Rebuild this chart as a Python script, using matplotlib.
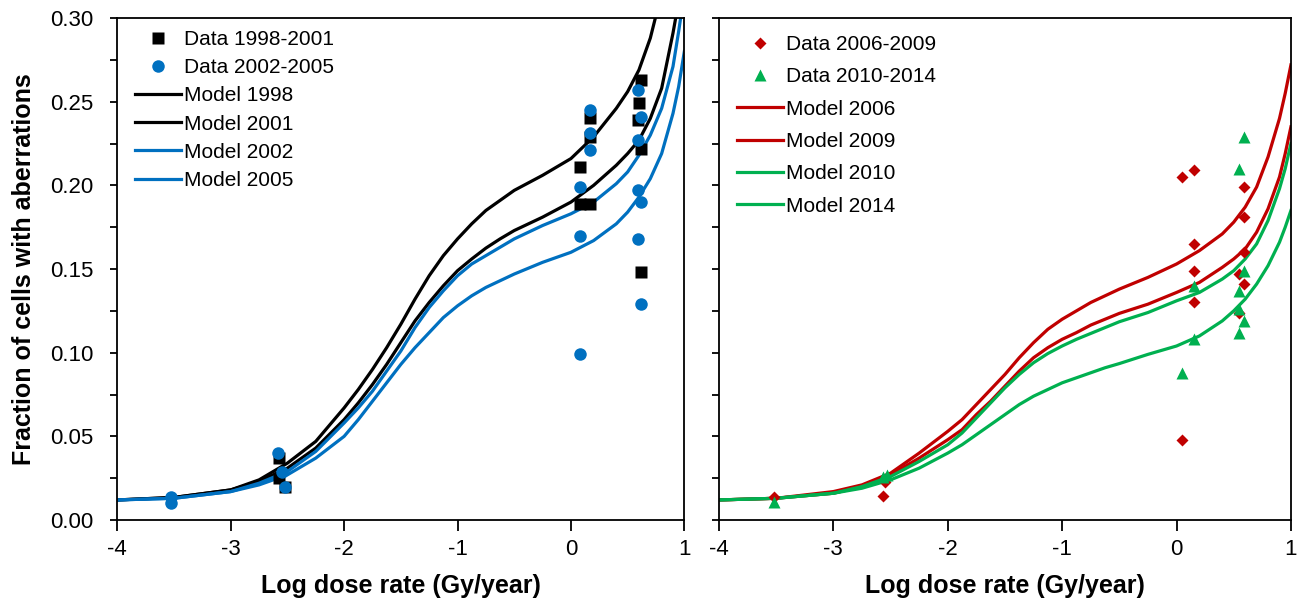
import matplotlib
matplotlib.use("Agg")
import matplotlib.pyplot as plt
from matplotlib.ticker import MultipleLocator

plt.rcParams['font.family'] = ['Liberation Sans', 'DejaVu Sans']

# ---------------- data ----------------
xgrid = [-4.0, -3.5, -3.0, -2.75, -2.5, -2.25, -2.0, -1.875, -1.75, -1.625, -1.5, -1.375,
         -1.25, -1.125, -1.0, -0.875, -0.75, -0.625, -0.5, -0.25, 0.0, 0.2, 0.4, 0.5,
         0.6, 0.7, 0.8, 0.9, 0.95, 1.0]

model_1998 = [0.012, 0.0135, 0.018, 0.024, 0.034, 0.047, 0.067, 0.078, 0.090, 0.103, 0.117, 0.132,
              0.146, 0.158, 0.168, 0.177, 0.185, 0.191, 0.197, 0.206, 0.216, 0.229, 0.246, 0.256,
              0.269, 0.288, 0.315, 0.350, 0.370, 0.390]
model_2001 = [0.012, 0.0135, 0.018, 0.023, 0.031, 0.043, 0.060, 0.070, 0.081, 0.093, 0.106, 0.119,
              0.130, 0.140, 0.149, 0.156, 0.1625, 0.168, 0.173, 0.181, 0.190, 0.200, 0.212, 0.219,
              0.227, 0.240, 0.258, 0.291, 0.310, 0.330]
model_2002 = [0.012, 0.013, 0.017, 0.022, 0.029, 0.041, 0.058, 0.067, 0.077, 0.089, 0.101, 0.115,
              0.127, 0.137, 0.146, 0.153, 0.158, 0.163, 0.168, 0.176, 0.183, 0.190, 0.201, 0.208,
              0.218, 0.230, 0.246, 0.271, 0.292, 0.315]
model_2005 = [0.012, 0.013, 0.017, 0.021, 0.027, 0.037, 0.050, 0.060, 0.071, 0.082, 0.093, 0.103,
              0.112, 0.121, 0.128, 0.134, 0.139, 0.143, 0.147, 0.154, 0.160, 0.167, 0.177, 0.184,
              0.193, 0.204, 0.219, 0.243, 0.259, 0.280]

model_2006 = [0.012, 0.013, 0.017, 0.021, 0.028, 0.040, 0.053, 0.060, 0.069, 0.078, 0.087, 0.097,
              0.106, 0.114, 0.120, 0.125, 0.130, 0.134, 0.138, 0.145, 0.153, 0.161, 0.171, 0.178,
              0.187, 0.199, 0.217, 0.240, 0.255, 0.272]
model_2009 = [0.012, 0.013, 0.016, 0.020, 0.027, 0.037, 0.048, 0.054, 0.063, 0.071, 0.080, 0.089,
              0.097, 0.103, 0.108, 0.112, 0.1165, 0.120, 0.1235, 0.129, 0.136, 0.142, 0.151, 0.156,
              0.162, 0.172, 0.186, 0.205, 0.219, 0.235]
model_2010 = [0.012, 0.013, 0.016, 0.020, 0.026, 0.035, 0.045, 0.052, 0.061, 0.070, 0.079, 0.087,
              0.094, 0.0995, 0.104, 0.108, 0.1115, 0.115, 0.1185, 0.124, 0.131, 0.136, 0.144, 0.149,
              0.156, 0.165, 0.179, 0.198, 0.210, 0.225]
model_2014 = [0.012, 0.013, 0.016, 0.019, 0.024, 0.031, 0.040, 0.045, 0.051, 0.057, 0.063, 0.069,
              0.074, 0.078, 0.082, 0.085, 0.088, 0.091, 0.0935, 0.099, 0.104, 0.110, 0.119, 0.125,
              0.132, 0.141, 0.152, 0.166, 0.175, 0.185]

d9801_x = [-2.57, -2.57, -2.52, 0.08, 0.08, 0.17, 0.17, 0.17, 0.62, 0.60, 0.59, 0.62, 0.62]
d9801_y = [0.037, 0.025, 0.020, 0.211, 0.189, 0.189, 0.240, 0.229, 0.263, 0.249, 0.239, 0.222, 0.148]

d0205_x = [-3.53, -3.53, -2.58, -2.55, -2.52, 0.08, 0.08, 0.08, 0.17, 0.17, 0.17,
           0.59, 0.62, 0.59, 0.59, 0.62, 0.59, 0.62]
d0205_y = [0.014, 0.010, 0.040, 0.029, 0.020, 0.199, 0.170, 0.099, 0.245, 0.231, 0.221,
           0.257, 0.241, 0.227, 0.197, 0.190, 0.168, 0.129]

d0609_x = [-3.52, -2.57, -2.55, 0.05, 0.05, 0.15, 0.15, 0.15, 0.15,
           0.59, 0.59, 0.59, 0.55, 0.59, 0.55]
d0609_y = [0.014, 0.0143, 0.023, 0.205, 0.048, 0.209, 0.165, 0.149, 0.130,
           0.199, 0.181, 0.160, 0.147, 0.141, 0.124]

d1014_x = [-3.52, -2.57, -2.53, 0.05, 0.15, 0.15, 0.59, 0.55, 0.59, 0.55, 0.55, 0.59, 0.55]
d1014_y = [0.011, 0.026, 0.027, 0.088, 0.140, 0.108, 0.229, 0.210, 0.149, 0.137, 0.126, 0.119, 0.112]

xticks = [-4, -3, -2, -1, 0, 1]
yticks = [0.00, 0.05, 0.10, 0.15, 0.20, 0.25, 0.30]

BLACK = '#000000'
BLUE = '#0070C0'
RED = '#C00000'
GREEN = '#00B050'

# ---------------- figure ----------------
fig = plt.figure(figsize=(13.02, 6.03), dpi=100)
ax1 = fig.add_axes([0.0901, 0.1376, 0.4355, 0.8325])
ax2 = fig.add_axes([0.5522, 0.1376, 0.4393, 0.8325])

LW = 2.3

ax1.plot(xgrid, model_1998, color=BLACK, lw=LW, label='Model 1998', zorder=2)
ax1.plot(xgrid, model_2001, color=BLACK, lw=LW, label='Model 2001', zorder=2)
ax1.plot(xgrid, model_2002, color=BLUE, lw=LW, label='Model 2002', zorder=2)
ax1.plot(xgrid, model_2005, color=BLUE, lw=LW, label='Model 2005', zorder=2)
ax1.plot(d9801_x, d9801_y, ls='none', marker='s', ms=8.5, color=BLACK,
         mec='none', label='Data 1998-2001', zorder=3)
ax1.plot(d0205_x, d0205_y, ls='none', marker='o', ms=9, color=BLUE,
         mec='none', label='Data 2002-2005', zorder=4)

ax2.plot(xgrid, model_2006, color=RED, lw=LW, label='Model 2006', zorder=2)
ax2.plot(xgrid, model_2009, color=RED, lw=LW, label='Model 2009', zorder=2)
ax2.plot(xgrid, model_2010, color=GREEN, lw=LW, label='Model 2010', zorder=2)
ax2.plot(xgrid, model_2014, color=GREEN, lw=LW, label='Model 2014', zorder=2)
ax2.plot(d0609_x, d0609_y, ls='none', marker='D', ms=6.5, color=RED,
         mec='none', label='Data 2006-2009', zorder=3)
ax2.plot(d1014_x, d1014_y, ls='none', marker='^', ms=9, color=GREEN,
         mec='none', label='Data 2010-2014', zorder=4)

for ax in (ax1, ax2):
    ax.set_xlim(-4, 1)
    ax.set_ylim(0, 0.30)
    ax.set_xticks(xticks)
    ax.set_yticks(yticks)
    ax.yaxis.set_minor_locator(MultipleLocator(0.025))
    ax.tick_params(axis='both', which='both', direction='out', width=1.3,
                   labelsize=16, colors='black')
    ax.tick_params(axis='y', which='both', length=5, pad=12)
    ax.tick_params(axis='x', which='major', length=8, pad=6)
    ax.set_xticklabels([str(t) for t in xticks])
    for s in ax.spines.values():
        s.set_linewidth(1.3)
        s.set_color('black')
    ax.set_xlabel('Log dose rate (Gy/year)', fontsize=18, fontweight='bold', labelpad=10)

ax1.set_yticklabels(['%.2f' % t for t in yticks])
ax2.set_yticklabels([])
ax1.set_ylabel('Fraction of cells with aberrations', fontsize=18, fontweight='bold', labelpad=10)

order = [4, 5, 0, 1, 2, 3]
hs, ls_ = ax1.get_legend_handles_labels()
ax1.legend([hs[i] for i in order], [ls_[i] for i in order], loc='upper left',
           bbox_to_anchor=(0.006, 1.005), frameon=False, fontsize=15,
           handlelength=2.2, handletextpad=0.15, labelspacing=0.44, borderaxespad=0.3)

hs, ls_ = ax2.get_legend_handles_labels()
ax2.legend([hs[i] for i in order], [ls_[i] for i in order], loc='upper left',
           bbox_to_anchor=(0.006, 0.995), frameon=False, fontsize=15,
           handlelength=2.2, handletextpad=0.15, labelspacing=0.64, borderaxespad=0.3)

fig.savefig('out.png', dpi=100)
